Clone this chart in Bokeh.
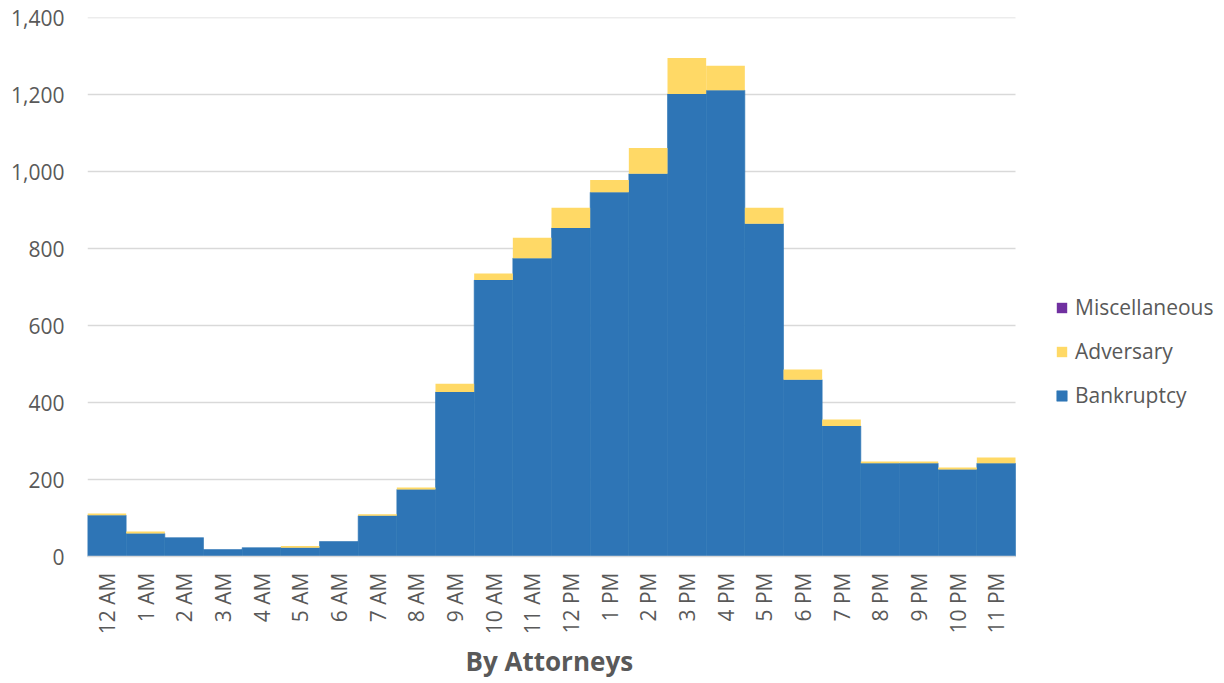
import math
from bokeh.plotting import figure
from bokeh.models import Range1d, Legend, LegendItem, NumeralTickFormatter, FixedTicker, Title
from bokeh.embed import file_html
from bokeh.resources import INLINE

hours = ["12 AM", "1 AM", "2 AM", "3 AM", "4 AM", "5 AM", "6 AM", "7 AM", "8 AM", "9 AM",
         "10 AM", "11 AM", "12 PM", "1 PM", "2 PM", "3 PM", "4 PM", "5 PM", "6 PM", "7 PM",
         "8 PM", "9 PM", "10 PM", "11 PM"]
bankruptcy = [107, 60, 49, 18, 23, 23, 39, 106, 174, 427, 718, 775, 853, 946, 994, 1201, 1211,
              864, 459, 339, 242, 242, 226, 242]
adversary = [5, 5, 0, 0, 0, 4, 0, 4, 5, 22, 17, 53, 53, 32, 67, 94, 64, 42, 27, 17, 5, 5, 5, 15]
miscellaneous = [0] * 24
y_ticks = [0, 200, 400, 600, 800, 1000, 1200, 1400]

series = ["Bankruptcy", "Adversary", "Miscellaneous"]
colors = ["#2E75B6", "#FFD966", "#7030A0"]

FONT = "Open Sans"
GREY = "#595959"

n = len(hours)
xpos = list(range(n))
data = dict(x=xpos, Bankruptcy=bankruptcy, Adversary=adversary, Miscellaneous=miscellaneous)

BAR_AREA = 928          # pixel width occupied by the 24 bars
FRAME_W = 1130          # frame also hosts the legend on the right
x_end = -0.5 + n * FRAME_W / BAR_AREA

p = figure(x_range=Range1d(-0.5, x_end), y_range=Range1d(0, 1400),
           frame_width=FRAME_W, frame_height=539,
           min_border_left=87, min_border_top=17, min_border_right=0, min_border_bottom=0,
           output_backend="svg", toolbar_location=None)

# horizontal gridlines limited to the bar area
grid_y = [t for t in y_ticks if t > 0]
p.segment(x0=[-0.5] * len(grid_y), x1=[n - 0.5] * len(grid_y), y0=grid_y, y1=grid_y,
          line_color="#D9D9D9", line_width=1.5, level="underlay")

renderers = p.vbar_stack(series, x="x", width=1.0, source=data, fill_color=colors,
                         line_color=["#2E75B6", None, None], line_width=0.6)

p.outline_line_color = None
p.background_fill_color = "white"
p.border_fill_color = "white"
p.xgrid.grid_line_color = None
p.ygrid.grid_line_color = None

p.yaxis.ticker = FixedTicker(ticks=y_ticks)
p.yaxis.formatter = NumeralTickFormatter(format="0,0")
p.yaxis.axis_line_color = None
p.yaxis.major_tick_line_color = None
p.yaxis.minor_tick_line_color = None
p.yaxis.major_label_text_font = FONT
p.yaxis.major_label_text_font_size = "21px"
p.yaxis.major_label_text_color = GREY
p.yaxis.major_label_standoff = 17

p.xaxis.ticker = FixedTicker(ticks=xpos)
p.xaxis.major_label_overrides = {i: h for i, h in zip(xpos, hours)}
p.xaxis.bounds = (-0.5, n - 0.5)
p.xaxis.axis_line_color = "#D9D9D9"
p.xaxis.axis_line_width = 1.5
p.xaxis.major_tick_line_color = None
p.xaxis.minor_tick_line_color = None
p.xaxis.major_label_orientation = math.pi / 2
p.xaxis.major_label_text_font = FONT
p.xaxis.major_label_text_font_size = "21px"
p.xaxis.major_label_text_color = GREY
p.xaxis.major_label_standoff = 10

title = Title(text="By Attorneys", align="left", offset=378, text_font=FONT,
              text_font_size="26px", text_font_style="bold", text_color=GREY, standoff=6)
p.add_layout(title, "below")

items = [LegendItem(label=series[i], renderers=[renderers[i]]) for i in [2, 1, 0]]
legend = Legend(items=items, location=(968, 147))
legend.label_text_font = FONT
legend.label_text_font_size = "21px"
legend.label_text_color = GREY
legend.glyph_width = 13
legend.glyph_height = 13
legend.spacing = 16
legend.label_standoff = 7
legend.label_height = 26
legend.border_line_color = None
legend.background_fill_alpha = 0
legend.margin = 0
legend.padding = 0
p.add_layout(legend, "center")

open("out.html", "w").write(file_html(p, INLINE))
